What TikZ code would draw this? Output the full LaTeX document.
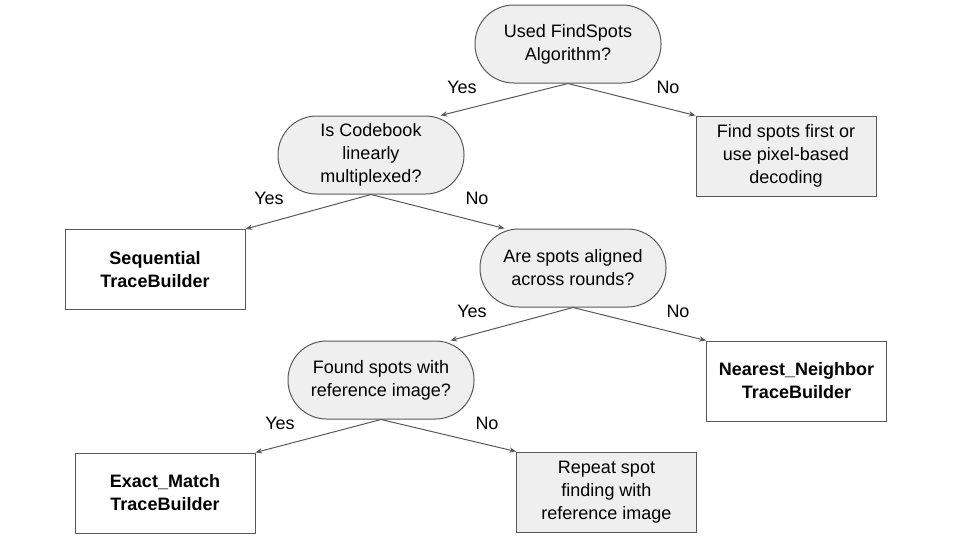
\documentclass[tikz,border=0pt]{standalone}
\usepackage{fontspec}
\setmainfont{Liberation Sans}
\usetikzlibrary{arrows.meta,calc}
\definecolor{edgegray}{HTML}{595959}
\definecolor{boxfill}{HTML}{EFEFEF}
\newcommand{\flowfont}{\fontsize{13.5}{17.25}\selectfont}
\tikzset{
  question/.style={draw=edgegray, fill=boxfill, line width=0.75pt, rounded corners=29pt,
    minimum width=139.5pt, minimum height=58.5pt, align=center, inner sep=0pt},
  action/.style={draw=edgegray, fill=boxfill, line width=0.75pt,
    minimum width=135pt, minimum height=60pt, align=center, inner sep=0pt},
  builder/.style={action, fill=white, font=\flowfont\bfseries},
  branch/.style={draw=edgegray, line width=0.75pt, -{Stealth[length=5pt,width=4pt]}},
  answer/.style={inner sep=0pt}
}
\begin{document}
\begin{tikzpicture}[x=0.75pt,y=-0.75pt,
  every node/.append style={font=\flowfont}]
  \useasboundingbox (0,0) rectangle (960,540);
  % decisions
  \node[question] (findspots) at (568,44) {Used FindSpots\\Algorithm?};
  \node[question] (codebook) at (371,155) {Is Codebook\\linearly\\multiplexed?};
  \node[question] (aligned) at (573,268) {Are spots aligned\\across rounds?};
  \node[question] (refimage) at (381,380) {Found spots with\\reference image?};
  % outcomes
  \node[action] (findfirst) at (786,156) {Find spots first or\\use pixel-based\\decoding};
  \node[builder] (sequential) at (155,269.5) {Sequential\\TraceBuilder};
  \node[builder] (nearest) at (796.5,381) {Nearest\_Neighbor\\TraceBuilder};
  \node[builder] (exact) at (165,493) {Exact\_Match\\TraceBuilder};
  \node[action] (repeat) at (606.5,492) {Repeat spot\\finding with\\reference image};
  % branches
  \draw[branch] (findspots.south) -- ($(codebook.north east)+(-24,0)$);
  \draw[branch] (findspots.south) -- (findfirst.north west);
  \draw[branch] (codebook.south) -- (sequential.north east);
  \draw[branch] (codebook.south) -- ($(aligned.north west)+(25,0)$);
  \draw[branch] (aligned.south) -- ($(refimage.north east)+(-24,0)$);
  \draw[branch] (aligned.south) -- (nearest.north west);
  \draw[branch] (refimage.south) -- (exact.north east);
  \draw[branch] (refimage.south) -- (repeat.north west);
  % labels
  \node[answer] (yes1) at (462,87) {Yes};
  \node[answer] (no1) at (668,87) {No};
  \node[answer] (yes2) at (269,198) {Yes};
  \node[answer] (no2) at (477,198) {No};
  \node[answer] (yes3) at (472,311) {Yes};
  \node[answer] (no3) at (678,311) {No};
  \node[answer] (yes4) at (280,423) {Yes};
  \node[answer] (no4) at (487,423) {No};
\end{tikzpicture}
\end{document}
